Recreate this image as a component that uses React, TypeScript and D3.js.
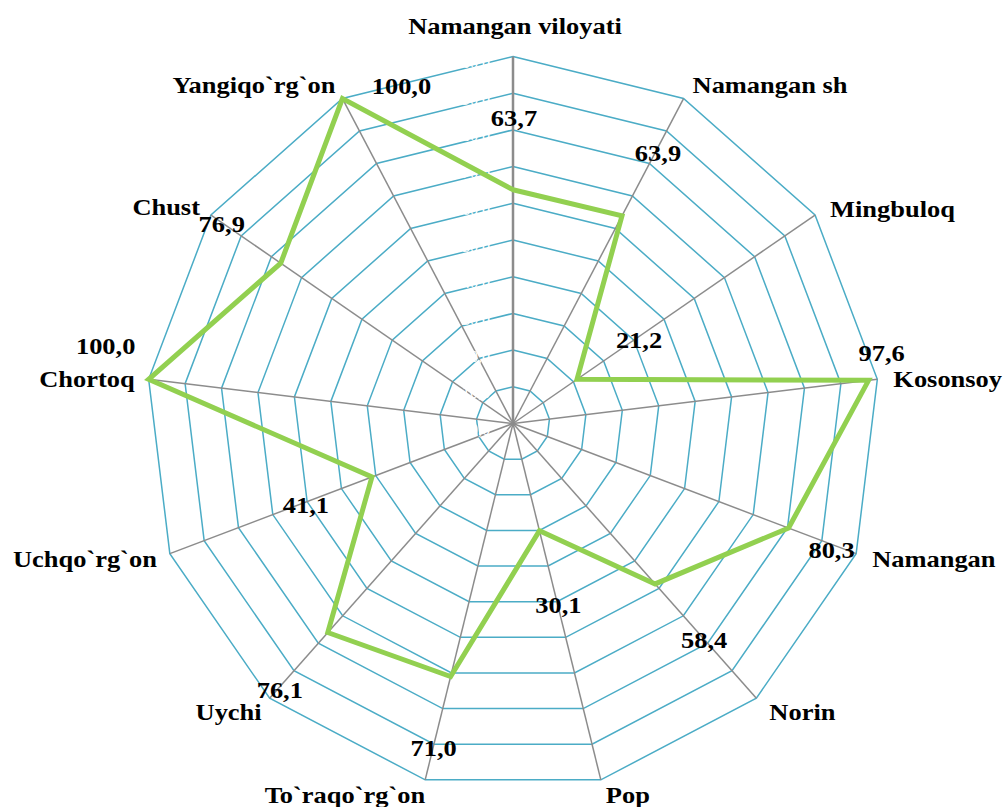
import React from "react";
import * as d3 from "d3";

const categories = [
  "Namangan viloyati",
  "Namangan sh",
  "Mingbuloq",
  "Kosonsoy",
  "Namangan",
  "Norin",
  "Pop",
  "To`raqo`rg`on",
  "Uychi",
  "Uchqo`rg`on",
  "Chortoq",
  "Chust",
  "Yangiqo`rg`on",
];
const values = [63.7, 63.9, 21.2, 97.6, 80.3, 58.4, 30.1, 71.0, 76.1, 41.1, 100.0, 76.9, 100.0];
const ticks = [0, 10, 20, 30, 40, 50, 60, 70, 80, 90, 100];

// layout (label placement relative to vertices / points)
const catAnchor = ["middle", "start", "start", "start", "start", "start", "start", "end", "end", "end", "end", "end", "end"];
const catOffset = [
  [2, -30], [9, -13], [15, -6], [16, 0], [16, 5], [13, 14], [5, 15],
  [0, 15], [-8, 14], [-13, 5], [-14, 0], [-11, -8], [-7, -13],
];
const valOffset = [
  [1, -72], [36, -63], [62, -39], [13, -27], [43, 22], [49, 56], [19, 74],
  [-17, 72], [-48, 58], [-66, 28], [-43, -33], [-59, -39], [59, -12],
];

const W = 1003;
const H = 807;
const cx = 513;
const cy = 423.5;
const R = 367;
const FONT = "'Liberation Serif', 'Times New Roman', serif";
const FS = 23;
const SX = 1.15;

const fmt = (v: number) => d3.format(".1f")(v).replace(".", ",");

export default function App() {
  const n = categories.length;
  const r = d3.scaleLinear().domain([0, 100]).range([0, R]);
  const angle = d3.scaleLinear().domain([0, n]).range([0, 2 * Math.PI]);
  const pt = (i: number, v: number): [number, number] => [
    cx + r(v) * Math.sin(angle(i)),
    cy - r(v) * Math.cos(angle(i)),
  ];
  const radial = d3
    .lineRadial<number>()
    .angle((_, i) => angle(i))
    .radius((d) => r(d))
    .curve(d3.curveLinearClosed);

  const idx = d3.range(n);

  return (
    <svg width={W} height={H} style={{ position: "absolute", left: 0, top: 0, background: "#fff" }}>
      <g transform={`translate(${cx},${cy})`}>
        {ticks.slice(1).map((t) => (
          <path key={t} d={radial(idx.map(() => t)) || ""} fill="none" stroke="#4BACC6" strokeWidth={1.5} />
        ))}
      </g>
      {idx.map((i) => {
        const [x, y] = pt(i, 100);
        return (
          <line
            key={i}
            x1={cx}
            y1={cy}
            x2={x}
            y2={y}
            stroke="#8C8C8C"
            strokeWidth={i === 0 ? 2.5 : 1.5}
          />
        );
      })}
      {ticks.map((t) => (
        <text
          key={t}
          x={490}
          y={cy - r(t) + 6}
          textAnchor="end"
          dominantBaseline="central"
          fill="#ffffff"
          fontFamily={FONT}
          fontSize={16}
        >
          {fmt(t)}
        </text>
      ))}
      <g transform={`translate(${cx},${cy})`}>
        <path d={radial(values) || ""} fill="none" stroke="#92D050" strokeWidth={5} strokeLinejoin="miter" />
      </g>
      {idx.map((i) => {
        const [x, y] = pt(i, 100);
        const tx = x + catOffset[i][0];
        const ty = y + catOffset[i][1];
        return (
          <text
            key={"c" + i}
            transform={`translate(${tx},${ty}) scale(${SX},1)`}
            textAnchor={catAnchor[i]}
            dominantBaseline="central"
            fontFamily={FONT}
            fontWeight="bold"
            fontSize={FS}
            fill="#000"
          >
            {categories[i]}
          </text>
        );
      })}
      {idx.map((i) => {
        const [x, y] = pt(i, values[i]);
        const tx = x + valOffset[i][0];
        const ty = y + valOffset[i][1];
        return (
          <text
            key={"v" + i}
            transform={`translate(${tx},${ty}) scale(${SX},1)`}
            textAnchor="middle"
            dominantBaseline="central"
            fontFamily={FONT}
            fontWeight="bold"
            fontSize={FS}
            fill="#000"
          >
            {fmt(values[i])}
          </text>
        );
      })}
    </svg>
  );
}
